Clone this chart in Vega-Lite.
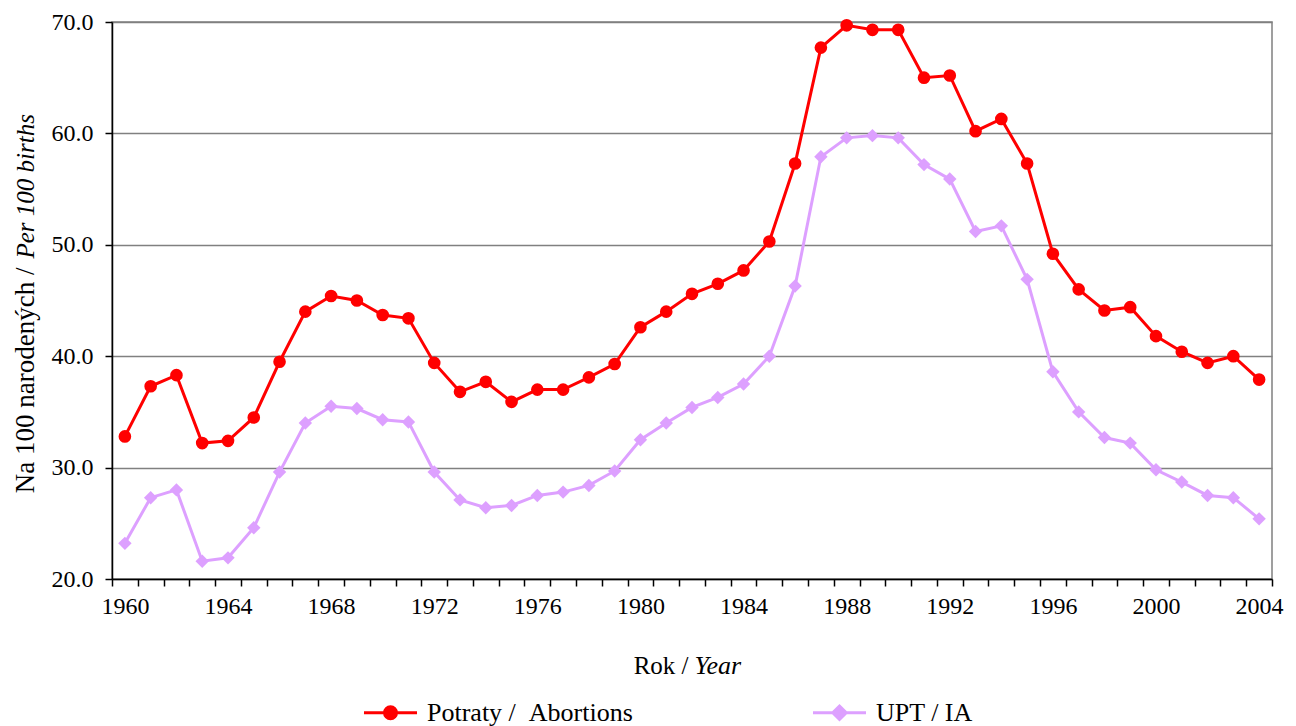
{
  "$schema": "https://vega.github.io/schema/vega-lite/v6.json",
  "width": 1160,
  "height": 557,
  "autosize": {"type": "none"},
  "padding": {"left": 112, "top": 22, "right": 24, "bottom": 147},
  "background": "white",
  "config": {
    "font": "Liberation Serif",
    "view": {"stroke": "#808080", "strokeWidth": 1.5},
    "axis": {
      "labelFont": "Liberation Serif",
      "labelFontSize": 24,
      "labelColor": "#000000",
      "titleFont": "Liberation Serif",
      "titleFontSize": 25,
      "titleFontWeight": "normal",
      "titleColor": "#000000",
      "domainColor": "#000000",
      "domainWidth": 1.5,
      "tickColor": "#000000",
      "tickWidth": 1.5,
      "tickSize": 7,
      "gridColor": "#808080",
      "gridWidth": 1.5,
      "gridOpacity": 1
    }
  },
  "data": {
    "values": [
      {"year": 1960, "series": "Potraty /  Abortions", "value": 32.8},
      {"year": 1961, "series": "Potraty /  Abortions", "value": 37.3},
      {"year": 1962, "series": "Potraty /  Abortions", "value": 38.3},
      {"year": 1963, "series": "Potraty /  Abortions", "value": 32.2},
      {"year": 1964, "series": "Potraty /  Abortions", "value": 32.4},
      {"year": 1965, "series": "Potraty /  Abortions", "value": 34.5},
      {"year": 1966, "series": "Potraty /  Abortions", "value": 39.5},
      {"year": 1967, "series": "Potraty /  Abortions", "value": 44.0},
      {"year": 1968, "series": "Potraty /  Abortions", "value": 45.4},
      {"year": 1969, "series": "Potraty /  Abortions", "value": 45.0},
      {"year": 1970, "series": "Potraty /  Abortions", "value": 43.7},
      {"year": 1971, "series": "Potraty /  Abortions", "value": 43.4},
      {"year": 1972, "series": "Potraty /  Abortions", "value": 39.4},
      {"year": 1973, "series": "Potraty /  Abortions", "value": 36.8},
      {"year": 1974, "series": "Potraty /  Abortions", "value": 37.7},
      {"year": 1975, "series": "Potraty /  Abortions", "value": 35.9},
      {"year": 1976, "series": "Potraty /  Abortions", "value": 37.0},
      {"year": 1977, "series": "Potraty /  Abortions", "value": 37.0},
      {"year": 1978, "series": "Potraty /  Abortions", "value": 38.1},
      {"year": 1979, "series": "Potraty /  Abortions", "value": 39.3},
      {"year": 1980, "series": "Potraty /  Abortions", "value": 42.6},
      {"year": 1981, "series": "Potraty /  Abortions", "value": 44.0},
      {"year": 1982, "series": "Potraty /  Abortions", "value": 45.6},
      {"year": 1983, "series": "Potraty /  Abortions", "value": 46.5},
      {"year": 1984, "series": "Potraty /  Abortions", "value": 47.7},
      {"year": 1985, "series": "Potraty /  Abortions", "value": 50.3},
      {"year": 1986, "series": "Potraty /  Abortions", "value": 57.3},
      {"year": 1987, "series": "Potraty /  Abortions", "value": 67.7},
      {"year": 1988, "series": "Potraty /  Abortions", "value": 69.7},
      {"year": 1989, "series": "Potraty /  Abortions", "value": 69.3},
      {"year": 1990, "series": "Potraty /  Abortions", "value": 69.3},
      {"year": 1991, "series": "Potraty /  Abortions", "value": 65.0},
      {"year": 1992, "series": "Potraty /  Abortions", "value": 65.2},
      {"year": 1993, "series": "Potraty /  Abortions", "value": 60.2},
      {"year": 1994, "series": "Potraty /  Abortions", "value": 61.3},
      {"year": 1995, "series": "Potraty /  Abortions", "value": 57.3},
      {"year": 1996, "series": "Potraty /  Abortions", "value": 49.2},
      {"year": 1997, "series": "Potraty /  Abortions", "value": 46.0},
      {"year": 1998, "series": "Potraty /  Abortions", "value": 44.1},
      {"year": 1999, "series": "Potraty /  Abortions", "value": 44.4},
      {"year": 2000, "series": "Potraty /  Abortions", "value": 41.8},
      {"year": 2001, "series": "Potraty /  Abortions", "value": 40.4},
      {"year": 2002, "series": "Potraty /  Abortions", "value": 39.4},
      {"year": 2003, "series": "Potraty /  Abortions", "value": 40.0},
      {"year": 2004, "series": "Potraty /  Abortions", "value": 37.9},
      {"year": 1960, "series": "UPT / IA", "value": 23.2},
      {"year": 1961, "series": "UPT / IA", "value": 27.3},
      {"year": 1962, "series": "UPT / IA", "value": 28.0},
      {"year": 1963, "series": "UPT / IA", "value": 21.6},
      {"year": 1964, "series": "UPT / IA", "value": 21.9},
      {"year": 1965, "series": "UPT / IA", "value": 24.6},
      {"year": 1966, "series": "UPT / IA", "value": 29.6},
      {"year": 1967, "series": "UPT / IA", "value": 34.0},
      {"year": 1968, "series": "UPT / IA", "value": 35.5},
      {"year": 1969, "series": "UPT / IA", "value": 35.3},
      {"year": 1970, "series": "UPT / IA", "value": 34.3},
      {"year": 1971, "series": "UPT / IA", "value": 34.1},
      {"year": 1972, "series": "UPT / IA", "value": 29.6},
      {"year": 1973, "series": "UPT / IA", "value": 27.1},
      {"year": 1974, "series": "UPT / IA", "value": 26.4},
      {"year": 1975, "series": "UPT / IA", "value": 26.6},
      {"year": 1976, "series": "UPT / IA", "value": 27.5},
      {"year": 1977, "series": "UPT / IA", "value": 27.8},
      {"year": 1978, "series": "UPT / IA", "value": 28.4},
      {"year": 1979, "series": "UPT / IA", "value": 29.7},
      {"year": 1980, "series": "UPT / IA", "value": 32.5},
      {"year": 1981, "series": "UPT / IA", "value": 34.0},
      {"year": 1982, "series": "UPT / IA", "value": 35.4},
      {"year": 1983, "series": "UPT / IA", "value": 36.3},
      {"year": 1984, "series": "UPT / IA", "value": 37.5},
      {"year": 1985, "series": "UPT / IA", "value": 40.0},
      {"year": 1986, "series": "UPT / IA", "value": 46.3},
      {"year": 1987, "series": "UPT / IA", "value": 57.9},
      {"year": 1988, "series": "UPT / IA", "value": 59.6},
      {"year": 1989, "series": "UPT / IA", "value": 59.8},
      {"year": 1990, "series": "UPT / IA", "value": 59.6},
      {"year": 1991, "series": "UPT / IA", "value": 57.2},
      {"year": 1992, "series": "UPT / IA", "value": 55.9},
      {"year": 1993, "series": "UPT / IA", "value": 51.2},
      {"year": 1994, "series": "UPT / IA", "value": 51.7},
      {"year": 1995, "series": "UPT / IA", "value": 46.9},
      {"year": 1996, "series": "UPT / IA", "value": 38.6},
      {"year": 1997, "series": "UPT / IA", "value": 35.0},
      {"year": 1998, "series": "UPT / IA", "value": 32.7},
      {"year": 1999, "series": "UPT / IA", "value": 32.2},
      {"year": 2000, "series": "UPT / IA", "value": 29.8},
      {"year": 2001, "series": "UPT / IA", "value": 28.7},
      {"year": 2002, "series": "UPT / IA", "value": 27.5},
      {"year": 2003, "series": "UPT / IA", "value": 27.3},
      {"year": 2004, "series": "UPT / IA", "value": 25.4}
    ]
  },
  "layer": [
    {
      "mark": {"type": "line", "strokeWidth": 3},
      "encoding": {
        "x": {
          "field": "year",
          "type": "ordinal",
          "bandPosition": 0.5,
          "scale": {"type": "band", "paddingInner": 0, "paddingOuter": 0},
          "axis": {
            "title": "Rok /",
            "orient": "bottom",
            "labelExpr": "datum.value % 4 === 0 ? datum.label : ''",
            "tickBand": "extent",
            "labelAngle": 0,
            "labelPadding": 8,
            "grid": false,
            "titleX": 576,
            "titleY": 94,
            "titleAlign": "right",
            "titleBaseline": "alphabetic"
          }
        },
        "y": {
          "field": "value",
          "type": "quantitative",
          "scale": {"domain": [20, 70], "nice": false, "zero": false},
          "axis": {
            "title": "Na 100 narodených /",
            "orient": "left",
            "values": [20, 30, 40, 50, 60, 70],
            "format": ".1f",
            "labelPadding": 12,
            "grid": true,
            "titleFontSize": 27,
            "titleX": -79,
            "titleY": 245,
            "titleAngle": -90,
            "titleAlign": "right",
            "titleBaseline": "alphabetic"
          }
        },
        "color": {
          "field": "series",
          "type": "nominal",
          "scale": {"domain": ["Potraty /  Abortions", "UPT / IA"], "range": ["#FF0000", "#DDA0FF"]},
          "legend": {
            "orient": "none",
            "legendX": 259,
            "legendY": 671,
            "direction": "horizontal",
            "title": null,
            "padding": 0,
            "labelFont": "Liberation Serif",
            "labelFontSize": 26,
            "labelColor": "#000000",
            "labelLimit": 0,
            "labelOffset": 17,
            "labelExpr": "replace(datum.label, '  ', ' \u00a0')",
            "columnPadding": 173,
            "symbolSize": 1250,
            "symbolStrokeWidth": 3,
            "encode": {
              "symbols": {
                "update": {
                  "shape": {"signal": "datum.value === 'UPT / IA' ? 'M-1.5,0L1.5,0M0,-0.38L0.38,0L0,0.38L-0.38,0Z' : 'M-1.5,0L1.5,0M0.34,0A0.34,0.34,0,1,1,-0.34,0A0.34,0.34,0,1,1,0.34,0Z'"},
                  "fill": {"signal": "datum.value === 'UPT / IA' ? '#DDA0FF' : '#FF0000'"},
                  "fillOpacity": {"value": 1},
                  "opacity": {"value": 1},
                  "strokeWidth": {"value": 3}
                }
              }
            }
          }
        }
      }
    },
    {
      "transform": [{"filter": {"field": "series", "equal": "Potraty /  Abortions"}}],
      "mark": {"type": "point", "filled": true, "opacity": 1, "shape": "circle", "size": 160, "color": "#FF0000"},
      "encoding": {
        "x": {
          "field": "year",
          "type": "ordinal",
          "bandPosition": 0.5,
          "scale": {"type": "band", "paddingInner": 0, "paddingOuter": 0},
          "axis": {
            "title": "Year",
            "orient": "bottom",
            "titleFontStyle": "italic",
            "titleFontSize": 26,
            "labels": false,
            "ticks": false,
            "domain": false,
            "grid": false,
            "titleX": 582,
            "titleY": 94,
            "titleAlign": "left",
            "titleBaseline": "alphabetic"
          }
        },
        "y": {
          "field": "value",
          "type": "quantitative",
          "scale": {"domain": [20, 70], "nice": false, "zero": false},
          "axis": {
            "title": "Per 100 births",
            "orient": "left",
            "titleFontStyle": "italic",
            "titleFontSize": 25,
            "labels": false,
            "ticks": false,
            "domain": false,
            "grid": false,
            "titleX": -79,
            "titleY": 236,
            "titleAngle": -90,
            "titleAlign": "left",
            "titleBaseline": "alphabetic"
          }
        }
      }
    },
    {
      "transform": [{"filter": {"field": "series", "equal": "UPT / IA"}}],
      "mark": {"type": "point", "filled": true, "opacity": 1, "shape": "diamond", "size": 180, "color": "#DDA0FF"},
      "encoding": {
        "x": {
          "field": "year",
          "type": "ordinal",
          "bandPosition": 0.5,
          "scale": {"type": "band", "paddingInner": 0, "paddingOuter": 0},
          "axis": null
        },
        "y": {
          "field": "value",
          "type": "quantitative",
          "scale": {"domain": [20, 70], "nice": false, "zero": false},
          "axis": null
        }
      }
    }
  ],
  "resolve": {"axis": {"x": "independent", "y": "independent"}}
}
